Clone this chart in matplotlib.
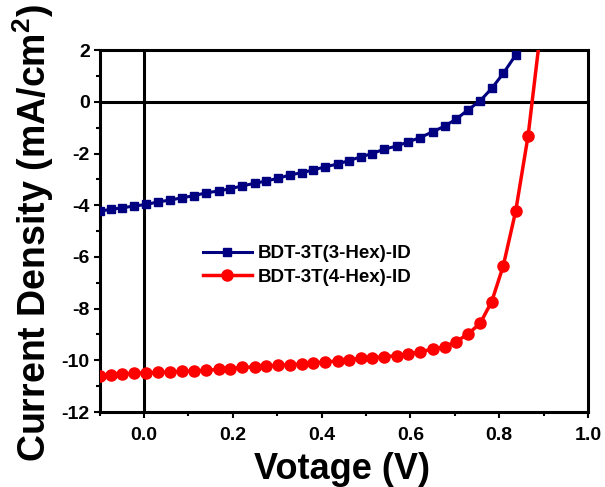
import matplotlib
matplotlib.use("Agg")
import matplotlib.pyplot as plt
from matplotlib.ticker import MultipleLocator, FormatStrFormatter

plt.rcParams['font.family'] = ['Liberation Sans', 'DejaVu Sans']
plt.rcParams['font.weight'] = 'bold'
plt.rcParams['axes.unicode_minus'] = False
plt.rcParams['mathtext.fontset'] = 'custom'
plt.rcParams['mathtext.rm'] = 'Liberation Sans:bold'
plt.rcParams['mathtext.default'] = 'rm'

# J-V data
voltage_3hex = [-0.099, -0.075, -0.049, -0.022, 0.005, 0.032, 0.059, 0.086, 0.113,
                0.140, 0.168, 0.194, 0.220, 0.249, 0.274, 0.301, 0.329, 0.355,
                0.381, 0.408, 0.436, 0.462, 0.488, 0.514, 0.541, 0.569, 0.595,
                0.622, 0.650, 0.677, 0.703, 0.729, 0.757, 0.783, 0.809, 0.837]
current_3hex = [-4.23, -4.16, -4.10, -4.03, -3.97, -3.87, -3.80, -3.71, -3.63,
                -3.52, -3.45, -3.36, -3.26, -3.15, -3.07, -2.96, -2.83, -2.74,
                -2.64, -2.51, -2.41, -2.27, -2.13, -2.00, -1.83, -1.71, -1.55,
                -1.38, -1.16, -0.94, -0.67, -0.32, 0.04, 0.52, 1.10, 1.81]

voltage_4hex = [-0.099, -0.075, -0.049, -0.022, 0.005, 0.032, 0.059, 0.086, 0.113,
                0.140, 0.168, 0.194, 0.220, 0.249, 0.274, 0.301, 0.329, 0.355,
                0.381, 0.408, 0.436, 0.462, 0.488, 0.514, 0.541, 0.569, 0.595,
                0.622, 0.650, 0.677, 0.703, 0.729, 0.757, 0.783, 0.809, 0.837,
                0.865, 0.892]
current_4hex = [-10.61, -10.57, -10.53, -10.50, -10.48, -10.47, -10.45, -10.43, -10.41,
                -10.39, -10.35, -10.32, -10.27, -10.26, -10.23, -10.19, -10.17, -10.14,
                -10.10, -10.07, -10.02, -9.98, -9.92, -9.90, -9.86, -9.82, -9.76,
                -9.67, -9.57, -9.47, -9.28, -8.99, -8.57, -7.73, -6.35, -4.23,
                -1.31, 2.6]

label_3hex = "BDT-3T(3-Hex)-ID"
label_4hex = "BDT-3T(4-Hex)-ID"

fig = plt.figure(figsize=(6.05, 4.87), dpi=100)
ax = fig.add_axes([0.1645, 0.154, 0.8075, 0.743])

# zero lines
ax.axhline(0, color="black", lw=2.2, zorder=1)
ax.axvline(0, color="black", lw=2.2, zorder=1)

ax.plot(voltage_3hex, current_3hex, color="#000080", lw=2.2, marker="s",
        markersize=6.2, label=label_3hex, zorder=3)
ax.plot(voltage_4hex, current_4hex, color="#ff0000", lw=2.5, marker="o",
        markersize=8, label=label_4hex, zorder=3)

ax.set_xlim(-0.1, 1.0)
ax.set_ylim(-12, 2)

ax.xaxis.set_major_locator(MultipleLocator(0.2))
ax.xaxis.set_minor_locator(MultipleLocator(0.1))
ax.xaxis.set_major_formatter(FormatStrFormatter("%.1f"))
ax.yaxis.set_major_locator(MultipleLocator(2))
ax.yaxis.set_minor_locator(MultipleLocator(1))

for s in ax.spines.values():
    s.set_linewidth(2.2)

ax.tick_params(which="both", direction="out", top=False, right=False, width=1.5)
ax.tick_params(which="major", length=4, labelsize=14)
ax.tick_params(which="minor", length=3)
ax.tick_params(axis="x", which="major", pad=7)
ax.tick_params(axis="y", which="major", pad=3)

ax.text(0.497, -0.16, "Votage (V)", transform=ax.transAxes, fontsize=26,
        fontweight="bold", ha="center", va="center")
ax.text(-0.135, 0.495, "Current Density (mA/cm$^{2}$)", transform=ax.transAxes,
        fontsize=27, fontweight="bold", rotation=90, ha="center", va="center")

ax.legend(loc="center left", bbox_to_anchor=(0.212, 0.405), frameon=False,
          fontsize=13.5, borderpad=0, borderaxespad=0, handlelength=2.6,
          handletextpad=0.3, labelspacing=0.35)

# make sure tick labels come out bold
fig.canvas.draw()
for t in ax.xaxis.get_major_ticks() + ax.yaxis.get_major_ticks():
    t.label1.set_fontweight("bold")

fig.savefig("out.png", dpi=100)
